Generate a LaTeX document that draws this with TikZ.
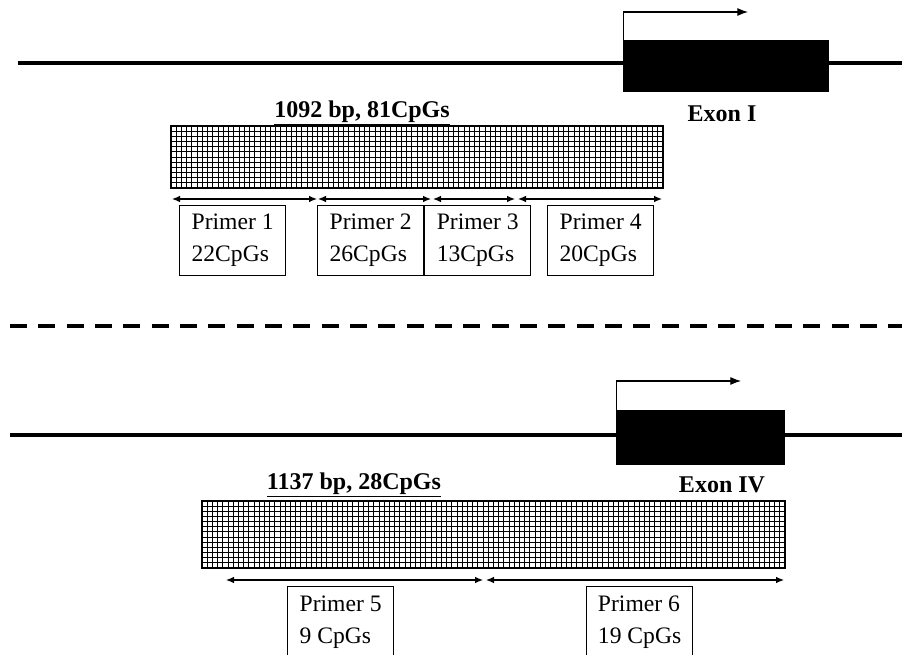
\documentclass[tikz,border=0pt]{standalone}
\usepackage{fontspec}
\setmainfont{Liberation Serif}
\usepackage{tikz}
\usetikzlibrary{arrows.meta,positioning}

\tikzset{
  dna/.style={line width=3pt},
  tss/.style={line width=0.8pt,-{Latex[length=8pt,width=6pt]}},
  amplicon/.style={line width=0.9pt,{Latex[length=6pt,width=5pt]}-{Latex[length=6pt,width=5pt]}},
  primerbox/.style={draw,line width=0.9pt,fill=white,align=left,anchor=north west,
    minimum width=79.5pt,minimum height=52.5pt,inner sep=0pt,
    font=\fontsize{17.7}{24}\selectfont},
  boldlabel/.style={font=\fontsize{18}{22}\selectfont\bfseries,inner sep=0pt},
  gridline/.style={line width=0.7pt},
}

% CpG island: x0,y0,x1,y1,columns,rows
\newcommand{\cpgisland}[6]{%
  \fill[white] (#1,#2) rectangle (#3,#4);
  \foreach \i in {1,...,\numexpr#5-1\relax}
    \draw[gridline] ({#1+(#3-#1)/#5*\i},#2) -- ({#1+(#3-#1)/#5*\i},#4);
  \foreach \j in {1,...,\numexpr#6-1\relax}
    \draw[gridline] (#1,{#2+(#4-#2)/#6*\j}) -- (#3,{#2+(#4-#2)/#6*\j});
  \draw[line width=1pt] (#1,#2) rectangle (#3,#4);
}

\begin{document}
\begin{tikzpicture}[x=0.75pt,y=-0.75pt]
  \clip (0,0) rectangle (902,655);

  % ---- exon I ----
  \coordinate (L1) at (18,63);
  \coordinate (R1) at (902,63);
  \draw[dna] (L1)--(R1);
  \fill (623,40) rectangle (829,92);
  \coordinate (E1) at (623.5,40);
  \coordinate (T1) at (748,12);
  \draw[tss] (E1) |- (T1);
  \node[boldlabel] (exon1) at (722,114) {Exon I};
  \node[boldlabel] (isl1) at (362,113) {\underline{1092 bp, 81CpGs}};
  \cpgisland{171}{126}{663}{188}{94}{12}
  \coordinate (a0) at (172,199);
  \coordinate (a1) at (317,199);
  \coordinate (a2) at (318,199);
  \coordinate (a3) at (431,199);
  \coordinate (a4) at (433,199);
  \coordinate (a5) at (515,199);
  \coordinate (a6) at (518,199);
  \coordinate (a7) at (662,199);
  \draw[amplicon] (a0)--(a1);
  \draw[amplicon] (a2)--(a3);
  \draw[amplicon] (a4)--(a5);
  \draw[amplicon] (a6)--(a7);
  \node[primerbox] (p1) at (179,205) {Primer 1\\22CpGs};
  \node[primerbox] (p2) at (317,205) {Primer 2\\26CpGs};
  \node[primerbox] (p3) at (p2.north east) {Primer 3\\13CpGs};
  \node[primerbox] (p4) at (547,205) {Primer 4\\20CpGs};

  % ---- divider ----
  \coordinate (D0) at (10,326);
  \coordinate (D1) at (902,326);
  \draw[line width=3pt,dash pattern=on 12.75pt off 8.5pt] (D0)--(D1);

  % ---- exon IV ----
  \coordinate (L2) at (10,434.5);
  \coordinate (R2) at (902,434.5);
  \draw[dna] (L2)--(R2);
  \fill (616,410) rectangle (785,465);
  \coordinate (E2) at (616.5,410);
  \coordinate (T2) at (741,381);
  \draw[tss] (E2) |- (T2);
  \node[boldlabel] (exon4) at (722,485) {Exon IV};
  \node[boldlabel] (isl2) at (354,485) {\underline{1137 bp, 28CpGs}};
  \cpgisland{202}{501}{785}{568}{112}{13}
  \coordinate (b0) at (226,580);
  \coordinate (b1) at (483,580);
  \coordinate (b2) at (486,580);
  \coordinate (b3) at (784,580);
  \draw[amplicon] (b0)--(b1);
  \draw[amplicon] (b2)--(b3);
  \node[primerbox,minimum height=54pt] (p5) at (287,586) {Primer 5\\9 CpGs};
  \node[primerbox,minimum height=54pt] (p6) at (586,586) {Primer 6\\19 CpGs};
\end{tikzpicture}
\end{document}
